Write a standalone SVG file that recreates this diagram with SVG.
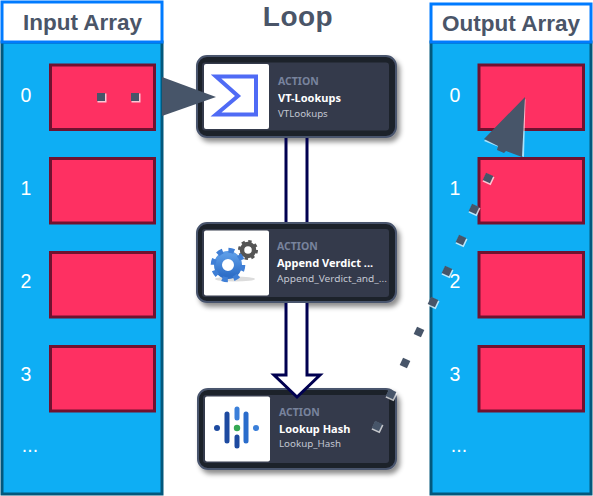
<svg xmlns="http://www.w3.org/2000/svg" width="593" height="496" viewBox="0 0 593 496">
<defs>
<filter id="sh" x="-15%" y="-15%" width="130%" height="135%"><feDropShadow dx="3" dy="4" stdDeviation="2.5" flood-color="#000" flood-opacity=".45"/></filter>
<linearGradient id="gb" x1="0" y1="0" x2="0" y2="1"><stop offset="0" stop-color="#5b9be6"/><stop offset="1" stop-color="#2f6fc8"/></linearGradient>
<g id="d"><rect x="-3.500" y="-3.500" width="9" height="9" fill="#fff" fill-opacity=".72"/><rect x="-4" y="-4" width="8" height="8" fill="#475569"/></g>
</defs>
<style>
.panel{fill:#0eaef4;stroke:#03587c;stroke-width:3}
.head{fill:#fff;stroke:#007bff;stroke-width:3}
.cell{fill:#fe3062;stroke:#701230;stroke-width:3}
.t{font-family:"Liberation Sans",Arial,sans-serif;font-weight:700;fill:#4a5568;text-anchor:middle}
.n{font-family:"Liberation Sans",Arial,sans-serif;font-size:19.5px;fill:#fff;text-anchor:middle}
.outer{fill:#1c2029;stroke:#4a556d;stroke-width:2}
.inner{fill:#343a4b}
.ic{fill:#fff}
.k{font-family:"Noto Sans",sans-serif;font-size:10.5px;font-weight:700;fill:#78839d}
.a{font-family:"Noto Sans",sans-serif;font-size:11px;font-weight:700;fill:#fff}
.b{font-family:"Noto Sans",sans-serif;font-size:9.7px;fill:#c3c7d2}
.c{fill:#fff;stroke:#000050;stroke-width:3}
</style>

<g id="input-array">
<rect class="panel" x="2" y="42" width="160" height="452"/>
<rect class="head" x="2" y="2" width="160" height="40"/>
<text class="t" x="82.500" y="30" font-size="22.500">Input Array</text>
<rect class="cell" x="50.500" y="65" width="104" height="64.500"/>
<rect class="cell" x="50.500" y="158.500" width="104" height="64.500"/>
<rect class="cell" x="50.500" y="252.500" width="104" height="64.500"/>
<rect class="cell" x="50.500" y="346.500" width="104" height="64.500"/>
<text class="n" x="26" y="102">0</text>
<text class="n" x="26" y="195">1</text>
<text class="n" x="26" y="288">2</text>
<text class="n" x="26" y="381">3</text>
<text class="n" x="30" y="452">...</text>
</g>

<g id="output-array">
<rect class="panel" x="431" y="42" width="160" height="452"/>
<rect class="head" x="431" y="4" width="160" height="38"/>
<text class="t" x="511" y="31" font-size="22.500">Output Array</text>
<rect class="cell" x="479" y="65" width="104.500" height="64.500"/>
<rect class="cell" x="479" y="158.500" width="104.500" height="64.500"/>
<rect class="cell" x="479" y="252.500" width="104.500" height="64.500"/>
<rect class="cell" x="479" y="346.500" width="104.500" height="64.500"/>
<text class="n" x="455" y="102">0</text>
<text class="n" x="455" y="195">1</text>
<text class="n" x="455" y="288">2</text>
<text class="n" x="455" y="381">3</text>
<text class="n" x="459" y="452">...</text>
</g>

<g id="loop-title"><text class="t" x="298" y="25.500" font-size="28" letter-spacing=".5">Loop</text></g>

<g id="node-vt-lookups">
<g filter="url(#sh)"><rect class="outer" x="197" y="56" width="199" height="81" rx="10"/></g>
<rect class="inner" x="202" y="62.500" width="187" height="68" rx="3"/>
<rect class="ic" x="204" y="64" width="65" height="65" rx="2"/>
<path d="M258 76.500H216L238 96L216 114.500H256V76.500" fill="none" stroke="#4f6bf5" stroke-width="4"/>
<text class="k" x="278" y="85">ACTION</text>
<text class="a" x="278" y="102">VT-Lookups</text>
<text class="b" x="278" y="117">VTLookups</text>
</g>

<g id="node-append-verdict">
<g filter="url(#sh)"><rect class="outer" x="197" y="223" width="199" height="79" rx="10"/></g>
<rect class="inner" x="202" y="229" width="187" height="68" rx="3"/>
<rect class="ic" x="204" y="230.500" width="65" height="65" rx="2"/>
<ellipse cx="235" cy="279" rx="20" ry="2.500" fill="#dcdcdc"/>
<circle cx="248" cy="250" r="6" fill="none" stroke="#555" stroke-width="4.500"/>
<circle cx="248" cy="250" r="8.500" fill="none" stroke="#555" stroke-width="3" stroke-dasharray="3.300 3.370"/>
<circle cx="228" cy="265" r="10" fill="none" stroke="url(#gb)" stroke-width="8"/>
<circle cx="228" cy="265" r="14.800" fill="none" stroke="#3f7fd6" stroke-width="5" stroke-dasharray="5.810 5.810"/>
<text class="k" x="277" y="250">ACTION</text>
<text class="a" x="277" y="267">Append Verdict ...</text>
<text class="b" x="277" y="282" textLength="110" lengthAdjust="spacingAndGlyphs">Append_Verdict_and_...</text>
</g>

<g id="node-lookup-hash">
<g filter="url(#sh)"><rect class="outer" x="198" y="389" width="198" height="80" rx="10"/></g>
<rect class="inner" x="203" y="395" width="186" height="68" rx="3"/>
<rect class="ic" x="205" y="396.500" width="65" height="65" rx="2"/>
<g stroke-linecap="round" stroke-width="5" fill="none">
<path d="M227 414V441M237 437V446" stroke="#1d4aa0"/>
<path d="M237 409V418" stroke="#3b7fd9"/>
<path d="M246 414V441" stroke="#2a6ccb"/>
</g>
<circle cx="217" cy="428" r="3" fill="#1d4aa0"/>
<circle cx="237" cy="428" r="3.200" fill="#34a853"/>
<circle cx="256" cy="428" r="3" fill="#3b7fd9"/>
<text class="k" x="279" y="416">ACTION</text>
<text class="a" x="279" y="433">Lookup Hash</text>
<text class="b" x="279" y="447" textLength="62" lengthAdjust="spacingAndGlyphs">Lookup_Hash</text>
</g>

<g id="connectors">
<path class="c" d="M286 138V222M307 138V222"/>
<path class="c" d="M286 303V375H274L297 397L320 375H307V303"/>
</g>

<g id="token-flow">
<path d="M162 77L216 97L162 116Z" fill="#475569"/>
<use href="#d" x="101" y="97"/>
<use href="#d" x="135" y="97"/>
<path d="M525.500 99L524 157L484 141Z" fill="#fff" fill-opacity=".65"/>
<path d="M525 97L522 157L506 151L504 153L497 150L498 146L484 139Z" fill="#475569"/>
<use href="#d" transform="translate(488 178) rotate(25)"/>
<use href="#d" transform="translate(474 209) rotate(25)"/>
<use href="#d" transform="translate(461 240) rotate(25)"/>
<use href="#d" transform="translate(447 271) rotate(25)"/>
<use href="#d" transform="translate(433 302) rotate(25)"/>
<rect x="-4" y="-4" width="8" height="8" fill="#475569" transform="translate(419 332) rotate(25)"/>
<rect x="-4" y="-4" width="8" height="8" fill="#475569" transform="translate(405 363) rotate(25)"/>
<use href="#d" transform="translate(391 394) rotate(25)"/>
<use href="#d" transform="translate(377 426) rotate(25)"/>
</g>
</svg>
